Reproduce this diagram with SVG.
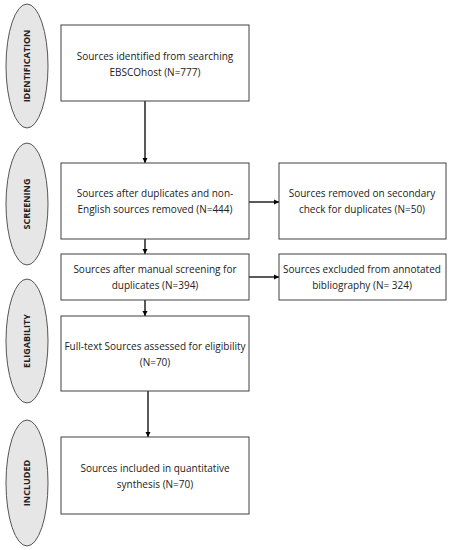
<svg xmlns="http://www.w3.org/2000/svg" width="452" height="550" viewBox="0 0 452 550">
<style>
.box{fill:#fff;stroke:#404040;stroke-width:1}
.ph{fill:#e6e6e6;stroke:#555;stroke-width:1}
.t{font-family:"Open Sans","Liberation Sans",sans-serif;font-size:10px;fill:#222;text-anchor:middle}
.pt{font-family:"Open Sans","Liberation Sans",sans-serif;font-size:9px;font-weight:bold;fill:#222;text-anchor:middle}
.c{stroke:#000;stroke-width:1.3;fill:none;marker-end:url(#ah)}
</style>
<defs>
<marker id="ah" viewBox="0 0 10 10" refX="10" refY="5" markerWidth="4" markerHeight="4" orient="auto" markerUnits="strokeWidth">
<path d="M0,0 L10,5 L0,10 z" fill="#000"/>
</marker>
</defs>
<g id="phase-identification"><ellipse class="ph" cx="27" cy="66" rx="21" ry="62"/><text class="pt" transform="translate(30,66) rotate(-90)">IDENTIFICATION</text></g>
<g id="phase-screening"><ellipse class="ph" cx="27" cy="204" rx="21" ry="61"/><text class="pt" transform="translate(30,204) rotate(-90)">SCREENING</text></g>
<g id="phase-eligability"><ellipse class="ph" cx="27" cy="341" rx="21" ry="62"/><text class="pt" transform="translate(30,341) rotate(-90)">ELIGABILITY</text></g>
<g id="phase-included"><ellipse class="ph" cx="27" cy="483" rx="21" ry="63"/><text class="pt" transform="translate(30,483) rotate(-90)">INCLUDED</text></g>
<g id="connectors">
<path class="c" d="M145,101 V163"/>
<path class="c" d="M145,239 V254"/>
<path class="c" d="M145,300 V316"/>
<path class="c" d="M148,391 V437"/>
<path class="c" d="M249,202 H279"/>
<path class="c" d="M249,277 H279"/>
</g>
<g id="n1"><rect class="box" x="61" y="25" width="188" height="76"/><text class="t" x="155" y="60">Sources identified from searching</text><text class="t" x="155" y="76">EBSCOhost (N=777)</text></g>
<g id="n2"><rect class="box" x="61" y="163" width="188" height="76"/><text class="t" x="155" y="197">Sources after duplicates and non-</text><text class="t" x="155" y="213">English sources removed (N=444)</text></g>
<g id="n3"><rect class="box" x="279" y="163" width="167" height="76"/><text class="t" x="362" y="197">Sources removed on secondary</text><text class="t" x="362" y="213">check for duplicates (N=50)</text></g>
<g id="n4"><rect class="box" x="61" y="254" width="188" height="46"/><text class="t" x="155" y="273">Sources after manual screening for</text><text class="t" x="155" y="289">duplicates (N=394)</text></g>
<g id="n5"><rect class="box" x="279" y="254" width="167" height="46"/><text class="t" x="362" y="273">Sources excluded from annotated</text><text class="t" x="362" y="289">bibliography (N= 324)</text></g>
<g id="n6"><rect class="box" x="61" y="316" width="188" height="75"/><text class="t" x="155" y="350">Full-text Sources assessed for eligibility</text><text class="t" x="155" y="366">(N=70)</text></g>
<g id="n7"><rect class="box" x="61" y="437" width="188" height="77"/><text class="t" x="155" y="472">Sources included in quantitative</text><text class="t" x="155" y="488">synthesis (N=70)</text></g>
</svg>
